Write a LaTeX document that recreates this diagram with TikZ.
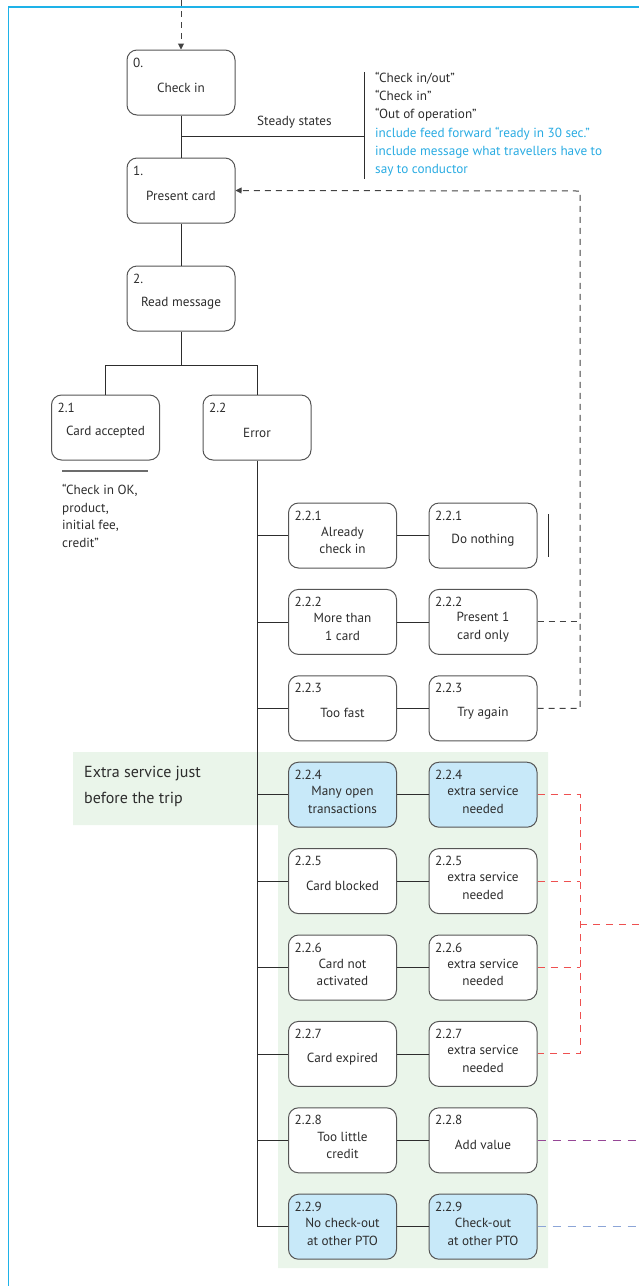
\documentclass[tikz,border=0pt]{standalone}
\usepackage{fontspec}
\setmainfont{PT Sans}
\usetikzlibrary{arrows.meta,calc}
\definecolor{frameblue}{RGB}{30,178,232}
\definecolor{txtblue}{RGB}{41,171,226}
\definecolor{nodeblue}{RGB}{200,233,249}
\definecolor{greenbg}{RGB}{234,245,234}
\definecolor{dashred}{RGB}{236,60,60}
\definecolor{dashpurple}{RGB}{150,70,150}
\definecolor{dashbluegrey}{RGB}{140,165,215}
\definecolor{linec}{RGB}{45,45,45}
\definecolor{boxc}{RGB}{85,85,85}
\newcommand\stbox[5]{%
  \node[#2] (#1) at (#3) {};
  \node[numtxt] (#1n) at ([xshift=6.5pt,yshift=-17.5pt]#1.north west) {#4};
  \node[maintxt] (#1t) at ([yshift=-5pt]#1.center) {#5};
}
\begin{document}
\begin{tikzpicture}[x=1pt,y=-1pt,
  font=\fontsize{13.2}{17.5}\selectfont,
  box/.style={draw=boxc, line width=1pt, rounded corners=10pt, minimum width=108pt, minimum height=65pt, inner sep=0pt, fill=white},
  bluebox/.style={box, fill=nodeblue},
  numtxt/.style={anchor=base west, inner sep=0pt, text=linec},
  maintxt/.style={align=center, inner sep=0pt, anchor=center, text=linec},
  conn/.style={draw=linec, line width=0.8pt},
  greydash/.style={draw=linec!90, line width=1pt, dash pattern=on 6pt off 5pt},
  reddash/.style={draw=dashred!90, line width=1pt, dash pattern=on 7pt off 6pt},
  purpledash/.style={draw=dashpurple, line width=0.9pt, dash pattern=on 8pt off 7pt},
  bgdash/.style={draw=dashbluegrey, line width=0.9pt, dash pattern=on 8pt off 7pt},
  plain/.style={anchor=base west, inner sep=0pt, text=linec},
  bluetext/.style={anchor=base west, inner sep=0pt, text=txtblue},
  tip/.style={-{Triangle[length=6pt,width=6pt]}}
]
\useasboundingbox (0,0) rectangle (639,1286);

% green background
\fill[greenbg] (73,752) -- (548,752) -- (548,1268) -- (278,1268) -- (278,825) -- (73,825) -- cycle;

% frame
\draw[frameblue, line width=1.8pt] (8.5,1290) -- (8.5,7) -- (645,7);

% nodes
\stbox{n0}{box}{181,82.5}{0.}{Check in}
\stbox{n1}{box}{181,190.5}{1.}{Present card}
\stbox{n2}{box}{181,298.5}{2.}{Read message}
\stbox{n21}{box}{105.5,427.5}{2.1}{Card accepted}
\stbox{n22}{box}{257,427.5}{2.2}{Error}

\foreach \i/\st/\lt/\rt in {
  1/box/{Already\\check in}/{Do nothing},
  2/box/{More than\\1 card}/{Present 1\\card only},
  3/box/{Too fast}/{Try again},
  4/bluebox/{Many open\\transactions}/{extra service\\needed},
  5/box/{Card blocked}/{extra service\\needed},
  6/box/{Card not\\activated}/{extra service\\needed},
  7/box/{Card expired}/{extra service\\needed},
  8/box/{Too little\\credit}/{Add value},
  9/bluebox/{No check-out\\at other PTO}/{Check-out\\at other PTO}}{
  \pgfmathsetmacro\yy{535.5+(\i-1)*86.4}
  \stbox{L\i}{\st}{342.5,\yy}{2.2.\i}{\lt}
  \stbox{R\i}{\st}{483,\yy}{2.2.\i}{\rt}
}

% top incoming arrow
\coordinate (topin) at (181,0);
\draw[greydash, tip] (topin) -- (n0.north);

% main spine
\draw[conn] (n0.south) -- (n1.north);
\draw[conn] (n1.south) -- (n2.north);
\coordinate (ssL) at (181,136);
\coordinate (ssR) at (364,136);
\coordinate (brT) at (364,72);
\coordinate (brB) at (364,179);
\draw[conn] (ssL) -- (ssR);
\draw[conn] (brT) -- (brB);
\node[plain] (sslabel) at (257,125) {Steady states};

\node[plain] (s1) at (375,82.5) {“Check in/out”};
\node[plain] (s2) at (375,100.7) {“Check in”};
\node[plain] (s3) at (375,118.9) {“Out of operation”};
\node[bluetext] (s4) at (375,137.1) {include feed forward “ready in 30 sec.”};
\node[bluetext] (s5) at (375,155.3) {include message what travellers have to};
\node[bluetext] (s6) at (375,173.5) {say to conductor};

% split to 2.1 / 2.2
\coordinate (j2) at (181,365);
\draw[conn] (n2.south) -- (j2);
\draw[conn] (n21.north) -- (n21.north |- j2) -- (n22.north |- j2) -- (n22.north);

% card accepted note
\coordinate (ulA) at (62,471);
\coordinate (ulB) at (148,471);
\draw[draw=linec!70, line width=1.2pt] (ulA) -- (ulB);
\node[plain] (c1) at (62,494.5) {“Check in OK,};
\node[plain] (c2) at (62,512) {product,};
\node[plain] (c3) at (62,529.5) {initial fee,};
\node[plain] (c4) at (62,547) {credit”};

% trunk and branches
\draw[conn] (n22.south) -- (n22.south |- L9.west);
\foreach \i in {1,...,9}{
  \draw[conn] (n22.south |- L\i.west) -- (L\i.west);
  \draw[conn] (L\i.east) -- (R\i.west);
}

% small bar next to Do nothing
\coordinate (dnT) at (548,514);
\coordinate (dnB) at (548,557);
\draw[conn] (dnT) -- (dnB);

% return dashed arrow to Present card
\coordinate (retT) at (580,191);
\draw[greydash, tip] (R3.east) -| (retT) -- (n1.east);
\draw[greydash] (R2.east) -- (R2.east -| retT);

% red dashed group
\coordinate (redT) at (580,794.5);
\coordinate (redM) at (580,924);
\coordinate (redE) at (639,924);
\draw[reddash] (R4.east) -| (R7.east -| redT) -- (R7.east);
\draw[reddash] (R5.east) -- (R5.east -| redT);
\draw[reddash] (R6.east) -- (R6.east -| redT);
\draw[reddash] (redM) -- (redE);

% purple and blue-grey
\coordinate (pE) at (639,1139);
\coordinate (bE) at (639,1226);
\draw[purpledash] (R8.east) -- (R8.east -| pE);
\draw[bgdash] (R9.east) -- (R9.east -| bE);

% green label
\node[anchor=base west, inner sep=0pt, text=linec, font=\fontsize{16}{20}\selectfont] (g1) at (84,777) {Extra service just};
\node[anchor=base west, inner sep=0pt, text=linec, font=\fontsize{16}{20}\selectfont] (g2) at (84,803) {before the trip};
\end{tikzpicture}
\end{document}
